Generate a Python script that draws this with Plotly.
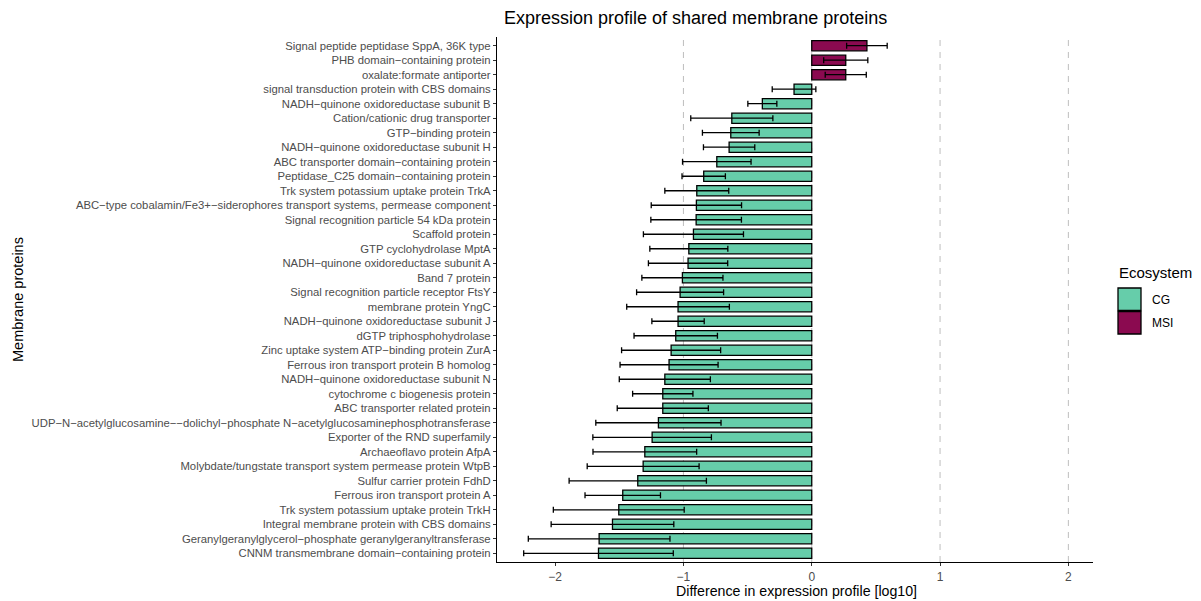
import plotly.graph_objects as go

# Membrane proteins, ordered top to bottom
proteins = [
    "Signal peptide peptidase SppA, 36K type",
    "PHB domain−containing protein",
    "oxalate:formate antiporter",
    "signal transduction protein with CBS domains",
    "NADH−quinone oxidoreductase subunit B",
    "Cation/cationic drug transporter",
    "GTP−binding protein",
    "NADH−quinone oxidoreductase subunit H",
    "ABC transporter domain−containing protein",
    "Peptidase_C25 domain−containing protein",
    "Trk system potassium uptake protein TrkA",
    "ABC−type cobalamin/Fe3+−siderophores transport systems, permease component",
    "Signal recognition particle 54 kDa protein",
    "Scaffold protein",
    "GTP cyclohydrolase MptA",
    "NADH−quinone oxidoreductase subunit A",
    "Band 7 protein",
    "Signal recognition particle receptor FtsY",
    "membrane protein YngC",
    "NADH−quinone oxidoreductase subunit J",
    "dGTP triphosphohydrolase",
    "Zinc uptake system ATP−binding protein ZurA",
    "Ferrous iron transport protein B homolog",
    "NADH−quinone oxidoreductase subunit N",
    "cytochrome c biogenesis protein",
    "ABC transporter related protein",
    "UDP−N−acetylglucosamine−−dolichyl−phosphate N−acetylglucosaminephosphotransferase",
    "Exporter of the RND superfamily",
    "Archaeoflavo protein AfpA",
    "Molybdate/tungstate transport system permease protein WtpB",
    "Sulfur carrier protein FdhD",
    "Ferrous iron transport protein A",
    "Trk system potassium uptake protein TrkH",
    "Integral membrane protein with CBS domains",
    "Geranylgeranylglycerol−phosphate geranylgeranyltransferase",
    "CNNM transmembrane domain−containing protein",
]

# Mean difference in expression profile (log10)
difference = [
    0.43, 0.265, 0.265, -0.138, -0.385, -0.623, -0.631, -0.644, -0.740, -0.842,
    -0.896, -0.899, -0.901, -0.922, -0.958, -0.964, -1.008, -1.026, -1.042, -1.042,
    -1.060, -1.096, -1.112, -1.145, -1.161, -1.161, -1.195, -1.244, -1.301, -1.314,
    -1.356, -1.473, -1.504, -1.553, -1.657, -1.662,
]

# Error (half-width of the error bar)
error = [
    0.158, 0.172, 0.160, 0.170, 0.113, 0.320, 0.221, 0.200, 0.267, 0.169,
    0.249, 0.352, 0.353, 0.390, 0.304, 0.309, 0.316, 0.339, 0.400, 0.204,
    0.325, 0.386, 0.382, 0.355, 0.235, 0.355, 0.488, 0.462, 0.404, 0.436,
    0.535, 0.294, 0.510, 0.478, 0.552, 0.583,
]

# Ecosystem in which each protein is more expressed
ecosystem = ["MSI"] * 3 + ["CG"] * 33

eco_colors = {"CG": "#66CDAA", "MSI": "#8B0A50"}
eco_order = ["CG", "MSI"]

x_ticks = [-2, -1, 0, 1, 2]
x_tick_text = ["−2", "−1", "0", "1", "2"]
ref_lines = [-1, 0, 1, 2]

FONT = "Liberation Sans, Arial, Helvetica, sans-serif"

fig = go.Figure()

for eco in eco_order:
    idx = [i for i, e in enumerate(ecosystem) if e == eco]
    fig.add_trace(go.Bar(
        y=[proteins[i] for i in idx],
        x=[difference[i] for i in idx],
        orientation="h",
        width=0.7,
        name=eco,
        marker=dict(color=eco_colors[eco], line=dict(color="black", width=1.3)),
        error_x=dict(type="data", array=[error[i] for i in idx], symmetric=True,
                     color="black", thickness=1.3, width=3),
        showlegend=False,
    ))

# Dashed reference lines behind the bars
for v in ref_lines:
    fig.add_shape(type="line", xref="x", yref="y domain", x0=v, x1=v, y0=0, y1=1,
                  line=dict(color="#BEBEBE", width=1, dash="6px,6px"), layer="below")

W, H = 1201, 601
M_L, M_R, M_T, M_B = 497, 108, 37, 39


def px(xp):
    return (xp - M_L) / (W - M_L - M_R)


def py(yp):
    return 1 - (yp - M_T) / (H - M_T - M_B)


annotations = [
    dict(text="Ecosystem", x=px(1117), y=py(272), xref="paper", yref="paper",
         xanchor="left", yanchor="middle", showarrow=False,
         font=dict(family=FONT, size=15, color="black")),
    dict(text="Membrane proteins", x=px(18), y=py(300), xref="paper", yref="paper",
         xanchor="center", yanchor="middle", textangle=-90, showarrow=False,
         font=dict(family=FONT, size=14.5, color="black")),
    dict(text="Difference in expression profile [log10]", x=px(796), y=py(591),
         xref="paper", yref="paper", xanchor="center", yanchor="middle",
         showarrow=False, font=dict(family=FONT, size=14.2, color="black")),
    dict(text="Expression profile of shared membrane proteins", x=px(695), y=py(18),
         xref="paper", yref="paper", xanchor="center", yanchor="middle",
         showarrow=False, font=dict(family=FONT, size=18, color="black")),
]

# Legend drawn by hand (square keys with outline)
for k, eco in enumerate(eco_order):
    top = 288 + k * 23.5
    fig.add_shape(type="rect", xref="paper", yref="paper",
                  x0=px(1118), x1=px(1141), y0=py(top), y1=py(top + 22.5),
                  fillcolor=eco_colors[eco], line=dict(color="black", width=1.3))
    annotations.append(dict(text=eco, x=px(1150), y=py(top + 11.5), xref="paper",
                            yref="paper", xanchor="left", yanchor="middle",
                            showarrow=False,
                            font=dict(family=FONT, size=12, color="black")))

fig.update_layout(
    width=W, height=H,
    margin=dict(l=M_L, r=M_R, t=M_T, b=M_B, autoexpand=False),
    plot_bgcolor="white", paper_bgcolor="white",
    font=dict(family=FONT, size=11, color="#4D4D4D"),
    barmode="overlay",
    showlegend=False,
    annotations=annotations,
    xaxis=dict(range=[-2.453, 2.192], tickvals=x_ticks, ticktext=x_tick_text,
               showgrid=False, zeroline=False, showline=True, linecolor="black",
               linewidth=1.2, ticks="outside", ticklen=3, tickcolor="#333333",
               tickwidth=1.1, tickfont=dict(family=FONT, size=12, color="#4D4D4D"),
               automargin=False),
    yaxis=dict(categoryorder="array", categoryarray=proteins,
               range=[35.6, -0.6], showgrid=False, zeroline=False, showline=True,
               linecolor="black", linewidth=1.2, ticks="outside", ticklen=3,
               tickcolor="#333333", tickwidth=1.1,
               tickfont=dict(family=FONT, size=11.3, color="#4D4D4D"),
               automargin=False),
)

fig.write_html("out.html")
